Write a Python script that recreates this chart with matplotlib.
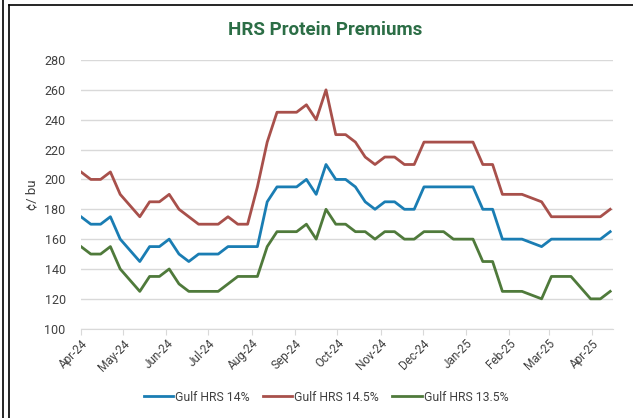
import matplotlib
matplotlib.use("Agg")
import matplotlib.pyplot as plt
import matplotlib.dates as mdates
import pandas as pd

# weekly premiums, cents/bu
dates = pd.date_range("2024-04-01", periods=55, freq="7D")

hrs_14 = [175, 170, 170, 175, 160, 152.5, 145, 155, 155, 160, 150, 145, 150, 150, 150, 155, 155, 155, 155,
          185, 195, 195, 195, 200, 190, 210, 200, 200, 195, 185, 180, 185, 185, 180, 180, 195, 195,
          195, 195, 195, 195, 180, 180, 160, 160, 160, 157.5, 155, 160, 160, 160, 160, 160, 160, 165]
hrs_145 = [205, 200, 200, 205, 190, 182.5, 175, 185, 185, 190, 180, 175, 170, 170, 170, 175, 170, 170, 195,
           225, 245, 245, 245, 250, 240, 260, 230, 230, 225, 215, 210, 215, 215, 210, 210, 225, 225,
           225, 225, 225, 225, 210, 210, 190, 190, 190, 187.5, 185, 175, 175, 175, 175, 175, 175, 180]
hrs_135 = [155, 150, 150, 155, 140, 132.5, 125, 135, 135, 140, 130, 125, 125, 125, 125, 130, 135, 135, 135,
           155, 165, 165, 165, 170, 160, 180, 170, 170, 165, 165, 160, 165, 165, 160, 160, 165, 165,
           165, 160, 160, 160, 145, 145, 125, 125, 125, 122.5, 120, 135, 135, 135, 127.5, 120, 120, 125]

series = [("Gulf HRS 14%", hrs_14, "#1a7db3"),
          ("Gulf HRS 14.5%", hrs_145, "#a8504b"),
          ("Gulf HRS 13.5%", hrs_135, "#4f7a3b")]

plt.rcParams["font.family"] = ["Roboto", "DejaVu Sans"]

fig = plt.figure(figsize=(6.33, 4.18), dpi=100)
ax = fig.add_axes([81 / 633, 1 - 328.7 / 418, 532 / 633, 268.7 / 418])

for name, vals, col in series:
    ax.plot(dates, vals, color=col, lw=2.0, label=name)

ax.set_ylim(100, 280)
ax.set_yticks(range(100, 281, 20))
ax.set_xlim(pd.Timestamp("2024-04-01"), pd.Timestamp("2025-04-16"))
ax.xaxis.set_major_locator(mdates.MonthLocator())
ax.xaxis.set_major_formatter(mdates.DateFormatter("%b-%y"))

ax.grid(axis="y", color="#d9d9d9", lw=1)
ax.set_axisbelow(True)
for s in ["top", "right", "left"]:
    ax.spines[s].set_visible(False)
ax.spines["bottom"].set_color("#d9d9d9")
ax.tick_params(axis="y", length=0, pad=11, labelsize=9, labelcolor="#404040")
ax.tick_params(axis="x", length=4, color="#d9d9d9", labelsize=8.5, labelcolor="#404040", pad=2)
plt.setp(ax.get_xticklabels(), rotation=45, ha="right", rotation_mode="anchor")

ax.set_ylabel("¢/ bu", fontsize=9.5, color="#404040", labelpad=4)

fig.text(0.513, 0.928, "HRS Protein Premiums", ha="center", va="center",
         fontsize=13.5, fontweight="bold", color="#2c6e46")

fig.legend(loc="center", bbox_to_anchor=(0.515, 0.05), ncol=3, frameon=False,
           fontsize=8.8, handlelength=2.4, handletextpad=0.15, columnspacing=1.1,
           labelcolor="#404040")

# frame lines from the original screenshot
fig.add_artist(plt.Line2D([3 / 633, 3 / 633], [0, 1], color="black", lw=1.2, transform=fig.transFigure))
fig.add_artist(plt.Line2D([9 / 633, 9 / 633], [0, 1 - 5 / 418], color="black", lw=1.2, transform=fig.transFigure))
fig.add_artist(plt.Line2D([9 / 633, 1], [1 - 5 / 418, 1 - 5 / 418], color="black", lw=1.2, transform=fig.transFigure))

fig.savefig("out.png", dpi=100)
